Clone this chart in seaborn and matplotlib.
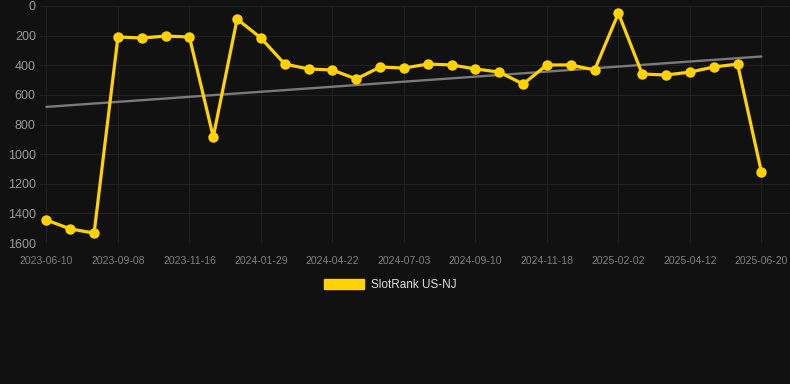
import numpy as np
import pandas as pd
import matplotlib
matplotlib.use("Agg")
import matplotlib.pyplot as plt
import seaborn as sns
from matplotlib.patches import Patch

fechas = [
    "2023-06-10", "2023-07-10", "2023-08-09", "2023-09-08", "2023-10-01",
    "2023-10-24", "2023-11-16", "2023-12-10", "2024-01-05", "2024-01-29",
    "2024-02-22", "2024-03-28", "2024-04-22", "2024-05-16", "2024-06-09",
    "2024-07-03", "2024-07-26", "2024-08-18", "2024-09-10", "2024-10-03",
    "2024-10-26", "2024-11-18", "2024-12-14", "2025-01-08", "2025-02-02",
    "2025-02-25", "2025-03-20", "2025-04-12", "2025-05-05", "2025-05-28",
    "2025-06-20",
]
rango = [
    1445, 1505, 1533, 209, 216, 203, 209, 884, 88, 216,
    392, 425, 432, 493, 412, 419, 392, 398, 425, 446,
    527, 398, 398, 432, 49, 459, 466, 446, 412, 392,
    1121,
]
serie = "SlotRank US-NJ"

fondo = "#111111"
amarillo = "#FFD200"

sns.set_theme(style="dark", rc={
    "axes.facecolor": fondo,
    "figure.facecolor": fondo,
    "grid.color": "#222222",
    "grid.linewidth": 0.8,
    "axes.grid": True,
})
plt.rcParams["font.family"] = ["Liberation Sans", "DejaVu Sans"]

df = pd.DataFrame({"idx": np.arange(len(fechas)), "fecha": fechas, "rango": rango})

fig = plt.figure(figsize=(7.9, 3.84), dpi=100)
ax = fig.add_axes([40 / 790, 1 - 243 / 384, 750 / 790, 237 / 384])

# tendencia lineal
coef = np.polyfit(df["idx"], df["rango"], 1)
ax.plot(df["idx"], np.polyval(coef, df["idx"]), color="#7a7a7a", linewidth=1.7, zorder=2)

sns.lineplot(
    data=df, x="idx", y="rango", ax=ax,
    color=amarillo, linewidth=2.3, marker="o", markersize=7.5,
    markeredgewidth=0, zorder=3,
)

ax.set_xlim(-0.27, 31.2)
ax.set_ylim(1600, 0)
ax.set_yticks(range(0, 1601, 200))
ax.set_xticks(df["idx"][::3])
ax.set_xticklabels(df["fecha"][::3])
ax.tick_params(axis="y", colors="#9a9a9a", labelsize=9, length=0, pad=3)
ax.tick_params(axis="x", colors="#7f7f7f", labelsize=7.5, length=0, pad=9)
for s in ax.spines.values():
    s.set_visible(False)
ax.set_xlabel("")
ax.set_ylabel("")

fig.legend(
    handles=[Patch(facecolor=amarillo, edgecolor=amarillo, label=serie)],
    loc="center", bbox_to_anchor=(0.494, 0.258), frameon=False,
    handlelength=3.4, handleheight=0.9, handletextpad=0.6,
    fontsize=8.5, labelcolor="#dddddd",
)

fig.savefig("out.png", dpi=100, facecolor=fondo)
